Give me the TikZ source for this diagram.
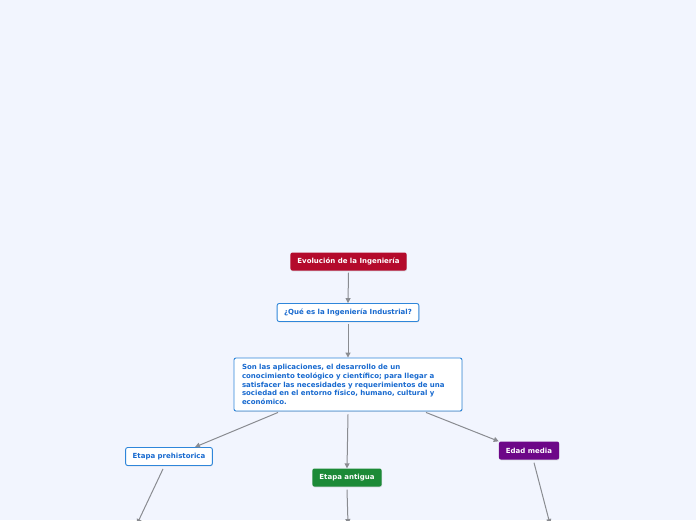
\documentclass[tikz,border=0pt]{standalone}
\usepackage{fontspec}
\setmainfont{DejaVu Sans}
\usepackage{xcolor}
\usetikzlibrary{arrows.meta,positioning,shadows}
\definecolor{bg}{HTML}{F2F5FE}
\definecolor{root}{HTML}{B40A2C}
\definecolor{blueline}{HTML}{2F86DA}
\definecolor{bluetext}{HTML}{1769CF}
\definecolor{antigua}{HTML}{1C8A37}
\definecolor{media}{HTML}{6D0788}
\definecolor{wire}{HTML}{8A8C91}

\begin{document}
\begin{tikzpicture}[x=1pt,y=-1pt,font=\fontsize{7}{8.6}\selectfont\bfseries,>={Triangle[length=5pt,width=5pt]},
  topic/.style={rounded corners=2pt,inner xsep=7pt,inner ysep=0pt,minimum height=18pt,
    drop shadow={shadow xshift=0.4pt,shadow yshift=-0.8pt,opacity=0.25}},
  filled/.style={topic,fill=#1,text=white},
  outlined/.style={topic,draw=blueline,line width=0.9pt,fill=white,text=bluetext},
  wirearrow/.style={->,draw=wire,line width=1pt}]
\useasboundingbox[fill=bg] (0,0) rectangle (696,520);
% topics
\node[filled=root] (evol) at (348.5,261.5) {Evolución de la Ingeniería};
\node[outlined] (que) at (348,312.5) {¿Qué es la Ingeniería Industrial?};
\node[outlined,align=left,minimum height=53pt,text width=212pt,inner xsep=8pt] (def) at (348,384.5)
  {Son las aplicaciones, el desarrollo de un\\conocimiento teológico y científico; para llegar a\\satisfacer las necesidades y requerimientos de una\\sociedad en el entorno físico, humano, cultural y\\económico.};
\node[outlined] (prehist) at (169,456.5) {Etapa prehistorica};
\node[filled=antigua] (antig) at (347,477.5) {Etapa antigua};
\node[filled=media] (edad) at (529,450.5) {Edad media};
% free ends below the page
\coordinate (pend) at (137,524);
\coordinate (aend) at (348,524);
\coordinate (mend) at (550,524);
% connectors
\draw[wirearrow] ([yshift=-2pt]evol.south) -- (que.north);
\draw[wirearrow] ([yshift=-2pt]que.south) -- (def.north);
\draw[wirearrow] ([xshift=-70pt,yshift=-1pt]def.south) -- ([xshift=26pt]prehist.north);
\draw[wirearrow] ([yshift=-3pt]def.south) -- (antig.north);
\draw[wirearrow] ([xshift=78pt,yshift=-1pt]def.south) -- (edad.north west);
\draw[wirearrow] ([xshift=-6pt,yshift=-3pt]prehist.south) -- (pend);
\draw[wirearrow] ([yshift=-3pt]antig.south) -- (aend);
\draw[wirearrow] ([xshift=5pt,yshift=-3pt]edad.south) -- (mend);
\end{tikzpicture}
\end{document}
